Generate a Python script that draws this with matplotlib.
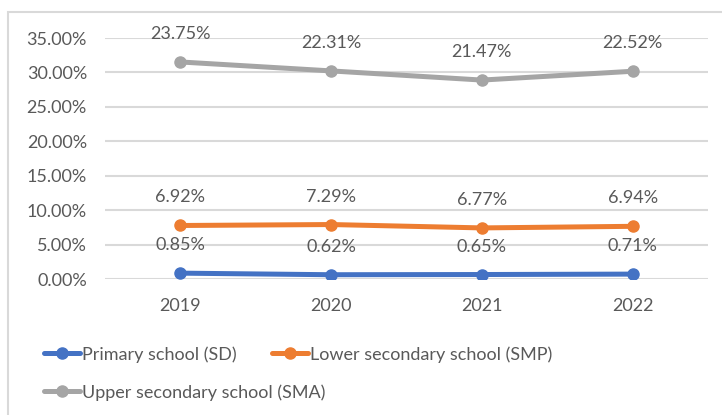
import numpy as np
import matplotlib.pyplot as plt
from matplotlib.patches import Rectangle

years = ['2019', '2020', '2021', '2022']
sd = [0.85, 0.62, 0.65, 0.71]
smp = [6.92, 7.29, 6.77, 6.94]
sma = [23.75, 22.31, 21.47, 22.52]
names = ['Primary school (SD)', 'Lower secondary school (SMP)', 'Upper secondary school (SMA)']
colors = ['#4472C4', '#ED7D31', '#A5A5A5']

plt.rcParams['font.family'] = ['Lato', 'DejaVu Sans']
txt = '#595959'
fs = 13

fig = plt.figure(figsize=(7.22, 4.15), dpi=100)
fig.patches.append(Rectangle((8 / 722, -0.1), 1.2, 1 - 12 / 415 + 0.1, transform=fig.transFigure,
                             fill=False, edgecolor='#D9D9D9', linewidth=1.5))
ax = fig.add_axes([105 / 722, 136 / 415, 603 / 722, 241 / 415])

x = np.arange(len(years))
series = [sd, smp, sma]
stacked = np.cumsum(np.array(series), axis=0)
lines = []
for vals, tops, name, c in zip(series, stacked, names, colors):
    ln, = ax.plot(x, tops, color=c, linewidth=3.6, marker='o', markersize=8, label=name,
                  solid_capstyle='round', zorder=3)
    lines.append(ln)
    for xi, v, t in zip(x, vals, tops):
        ax.annotate(f'{v:.2f}%', (xi, t), xytext=(0, 28), textcoords='offset pixels',
                    ha='center', va='center', fontsize=fs, color=txt)

ax.set_xlim(-0.5, 3.5)
ax.set_ylim(0, 35)
ax.set_yticks(np.arange(0, 36, 5))
ax.set_yticklabels([f'{v:.2f}%' for v in np.arange(0, 36, 5)])
ax.set_xticks(x)
ax.set_xticklabels(years)
ax.tick_params(length=0, labelsize=fs, labelcolor=txt)
ax.tick_params(axis='y', pad=13)
ax.tick_params(axis='x', pad=14)
ax.grid(axis='y', color='#D9D9D9', linewidth=1.5)
ax.set_axisbelow(True)
for s in ax.spines.values():
    s.set_visible(False)

# legend entries placed one by one (Excel layout: two on the first row, one below)
spots = [(44, 346), (272, 346), (44, 384)]
for ln, name, (px, py) in zip(lines, names, spots):
    leg = fig.legend([ln], [name], loc='upper left', bbox_to_anchor=(px / 722, 1 - py / 415),
                     frameon=False, fontsize=fs, labelcolor=txt, handlelength=2.0,
                     handletextpad=0.1, borderaxespad=0, borderpad=0)

fig.savefig('out.png', dpi=100)
